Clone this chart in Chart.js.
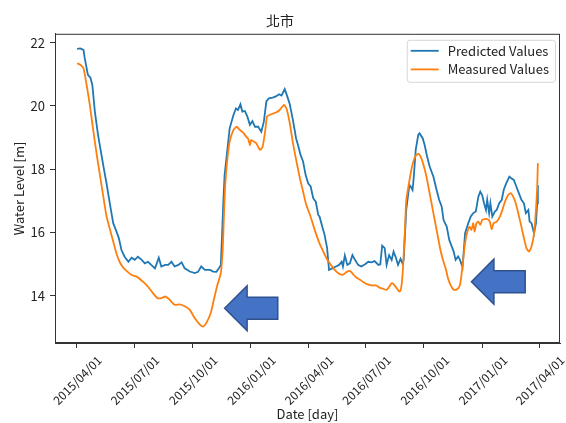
<!DOCTYPE html>
<html>
<head>
<meta charset="utf-8">
<script src="https://cdn.jsdelivr.net/npm/chart.js@4.4.0/dist/chart.umd.min.js"></script>
<style>
    html, body { margin: 0; padding: 0; background: #fff; }
    #wrap { width: 566px; height: 423px; position: relative; }
</style>
</head>
<body>
<div id="wrap"><canvas id="grafico"></canvas></div>
<script>
// days are counted from 2015/04/01
var chartTitle = "北市";
var tickDays = [0, 91, 183, 275, 366, 457, 549, 641, 731];
var tickLabels = ["2015/04/01", "2015/07/01", "2015/10/01", "2016/01/01", "2016/04/01",
    "2016/07/01", "2016/10/01", "2017/01/01", "2017/04/01"];
var levelTicks = [14, 16, 18, 20, 22];

var predictedDays = [1, 6, 11, 13, 18, 22, 25, 29, 34, 39, 45, 47, 53, 58, 63, 67, 71, 76, 82, 87,
    92, 97, 103, 108, 113, 118, 124, 130, 134, 140, 145, 150, 155, 161, 166, 171, 179, 187, 192, 197,
    203, 211, 216, 221, 225, 228, 230, 232, 234, 238, 242, 248, 252, 255, 259, 262, 266, 270, 274, 278,
    282, 287, 292, 296, 300, 304, 310, 315, 320, 324, 329, 333, 337, 342, 347, 350, 354, 358, 362, 366,
    370, 374, 378, 382, 384, 389, 392, 396, 399, 404, 410, 415, 419, 421, 424, 428, 432, 436, 440, 445,
    450, 456, 461, 466, 471, 477, 480, 483, 487, 490, 494, 498, 501, 505, 508, 512, 515, 517, 521, 526,
    528, 531, 533, 536, 540, 542, 547, 550, 554, 558, 564, 569, 573, 577, 580, 585, 589, 593, 596, 599,
    603, 606, 610, 614, 619, 623, 627, 631, 635, 638, 641, 644, 647, 649, 652, 654, 657, 661, 664, 668,
    672, 675, 679, 684, 687, 691, 695, 699, 703, 707, 710, 714, 716, 719, 723, 726, 728, 729];
var predictedValues = [21.80, 21.82, 21.77, 21.51, 20.98, 20.89, 20.66, 19.82, 19.08, 18.50, 17.81, 17.60, 16.87, 16.29, 16.03, 15.81, 15.44, 15.23, 15.07, 15.20,
    15.13, 15.23, 15.13, 15.02, 15.07, 14.97, 14.86, 15.20, 14.92, 14.97, 14.97, 15.07, 14.92, 14.97, 15.05, 14.86, 14.76, 14.71, 14.75, 14.92,
    14.81, 14.81, 14.76, 14.75, 14.86, 14.97, 15.92, 16.97, 17.81, 18.55, 19.29, 19.71, 19.92, 19.87, 20.05, 19.82, 19.84, 19.66, 19.40, 19.52,
    19.34, 19.34, 19.18, 19.50, 20.14, 20.24, 20.26, 20.30, 20.37, 20.33, 20.53, 20.30, 20.05, 19.55, 18.97, 18.76, 18.45, 18.24, 17.82, 17.55,
    17.45, 17.08, 16.97, 16.55, 16.50, 16.13, 15.92, 15.50, 14.81, 14.86, 14.92, 14.97, 15.07, 14.92, 15.27, 14.97, 15.02, 15.28, 15.13, 14.97,
    14.92, 14.99, 15.07, 15.05, 15.09, 14.97, 14.99, 15.58, 15.50, 14.97, 15.28, 15.13, 15.39, 15.18, 14.97, 15.16, 15.02, 15.13, 16.71, 17.50,
    17.45, 17.34, 17.76, 18.61, 19.08, 19.13, 18.98, 18.77, 18.40, 18.08, 17.76, 17.34, 17.03, 16.82, 16.39, 16.18, 15.76, 15.55, 15.39, 15.13,
    15.24, 15.13, 14.90, 15.97, 16.29, 16.50, 16.61, 16.66, 17.13, 17.29, 17.18, 16.92, 16.71, 17.03, 16.61, 16.92, 16.50, 16.66, 16.71, 16.92,
    17.03, 17.34, 17.55, 17.76, 17.71, 17.66, 17.45, 17.24, 17.03, 16.92, 16.61, 16.71, 16.34, 16.29, 15.97, 16.29, 16.92, 17.50];

var measuredDays = [1, 6, 11, 16, 21, 26, 32, 37, 42, 47, 53, 58, 63, 68, 74, 79, 87, 95, 105, 113,
    121, 128, 134, 141, 147, 155, 163, 171, 179, 187, 195, 200, 205, 212, 217, 222, 228, 231, 233, 235,
    238, 242, 248, 253, 258, 263, 268, 271, 274, 276, 280, 284, 290, 294, 298, 301, 305, 311, 316, 321,
    328, 332, 337, 342, 348, 353, 358, 363, 369, 374, 379, 384, 390, 395, 400, 406, 411, 416, 421, 427,
    432, 437, 442, 448, 453, 459, 466, 473, 479, 485, 490, 494, 498, 501, 506, 510, 512, 514, 516, 519,
    521, 526, 529, 533, 537, 541, 545, 549, 553, 557, 561, 566, 571, 575, 579, 584, 587, 591, 595, 599,
    603, 606, 608, 611, 614, 617, 621, 624, 627, 629, 632, 635, 638, 641, 645, 649, 653, 656, 659, 664,
    669, 673, 677, 682, 686, 690, 694, 698, 703, 707, 711, 715, 719, 723, 726, 728, 729];
var measuredValues = [21.35, 21.30, 21.19, 20.66, 20.03, 19.29, 18.45, 17.81, 17.18, 16.55, 16.08, 15.71, 15.34, 15.07, 14.88, 14.78, 14.65, 14.60, 14.44, 14.28,
    14.07, 13.92, 13.92, 13.97, 13.87, 13.71, 13.72, 13.66, 13.55, 13.28, 13.08, 13.02, 13.13, 13.44, 13.87, 14.29, 14.71, 15.45, 16.55, 17.50,
    18.24, 18.87, 19.24, 19.34, 19.24, 19.16, 19.03, 18.97, 18.76, 18.92, 18.87, 18.82, 18.61, 18.71, 19.18, 19.66, 19.71, 19.76, 19.80, 19.87,
    20.03, 19.90, 19.45, 18.82, 18.20, 17.71, 17.29, 16.87, 16.55, 16.23, 15.92, 15.65, 15.39, 15.18, 15.02, 14.86, 14.75, 14.68, 14.66, 14.75,
    14.78, 14.68, 14.57, 14.50, 14.43, 14.36, 14.32, 14.32, 14.25, 14.21, 14.18, 14.28, 14.39, 14.36, 14.23, 14.13, 14.15, 14.39, 14.90, 16.10,
    17.00, 17.63, 17.97, 18.29, 18.45, 18.48, 18.34, 18.08, 17.76, 17.34, 16.92, 16.39, 15.87, 15.45, 15.13, 14.81, 14.55, 14.34, 14.20, 14.18,
    14.23, 14.34, 14.60, 15.13, 15.66, 15.97, 16.18, 16.08, 16.29, 16.02, 16.29, 16.34, 16.24, 16.39, 16.42, 16.42, 16.34, 16.10, 16.29, 16.34,
    16.50, 16.71, 16.97, 17.18, 17.24, 17.13, 16.92, 16.61, 16.18, 15.82, 15.50, 15.39, 15.55, 15.97, 16.71, 17.45, 18.19];

// the two callout arrows, tip and tail in data units
var arrowTips = [{ x: 234, y: 13.6 }, { x: 624, y: 14.44 }];
var arrowTails = [{ x: 318, y: 13.6 }, { x: 709, y: 14.44 }];

var fontFamily = '"Noto Sans CJK TC", "Noto Sans", sans-serif';
var textColor = "#222";
var axisColor = "#333";

function toPoints(days, values) {
    return days.map(function (d, i) { return { x: d, y: values[i] }; });
}

var framePlugin = {
    id: "frame",
    afterDatasetsDraw: function (chart) {
        var ctx = chart.ctx;
        var ca = chart.chartArea;
        var xs = chart.scales.x, ys = chart.scales.y;
        ctx.save();
        ctx.strokeStyle = axisColor;
        ctx.lineWidth = 1;
        ctx.strokeRect(ca.left + 0.5, ca.top + 0.5, ca.right - ca.left - 1, ca.bottom - ca.top - 1);

        // arrows
        for (var i = 0; i < arrowTips.length; i++) {
            var tx = xs.getPixelForValue(arrowTips[i].x);
            var ty = ys.getPixelForValue(arrowTips[i].y);
            var ex = xs.getPixelForValue(arrowTails[i].x);
            var head = 22.5, halfHead = 22.5, halfShaft = 11;
            ctx.beginPath();
            ctx.moveTo(tx, ty);
            ctx.lineTo(tx + head, ty - halfHead);
            ctx.lineTo(tx + head, ty - halfShaft);
            ctx.lineTo(ex, ty - halfShaft);
            ctx.lineTo(ex, ty + halfShaft);
            ctx.lineTo(tx + head, ty + halfShaft);
            ctx.lineTo(tx + head, ty + halfHead);
            ctx.closePath();
            ctx.fillStyle = "#4472C4";
            ctx.fill();
            ctx.strokeStyle = "#2F528F";
            ctx.lineWidth = 1.5;
            ctx.stroke();
        }

        // legend box (upper right, matplotlib style)
        var items = [chart.data.datasets[0], chart.data.datasets[1]];
        ctx.font = "13px " + fontFamily;
        var tw = 0;
        items.forEach(function (it) { tw = Math.max(tw, ctx.measureText(it.label).width); });
        var bw = 4 + 28 + 9 + tw + 6;
        var bh = 42;
        var bx = ca.right - 5 - bw;
        var by = ca.top + 6;
        ctx.fillStyle = "rgba(255,255,255,0.8)";
        ctx.strokeStyle = "#d6d6d6";
        ctx.lineWidth = 1;
        ctx.beginPath();
        ctx.roundRect(bx + 0.5, by + 0.5, bw, bh, 3);
        ctx.fill();
        ctx.stroke();
        items.forEach(function (it, k) {
            var ly = by + 11 + k * 18.6;
            ctx.strokeStyle = it.borderColor;
            ctx.lineWidth = 1.8;
            ctx.beginPath();
            ctx.moveTo(bx + 4, ly);
            ctx.lineTo(bx + 32, ly);
            ctx.stroke();
            ctx.fillStyle = textColor;
            ctx.textBaseline = "middle";
            ctx.textAlign = "left";
            ctx.fillText(it.label, bx + 41, ly);
        });
        ctx.restore();
    }
};

var ctx = document.getElementById("grafico").getContext("2d");
new Chart(ctx, {
    type: "line",
    data: {
        datasets: [{
            label: "Predicted Values",
            data: toPoints(predictedDays, predictedValues),
            borderColor: "#1f77b4",
            borderWidth: 1.8,
            pointRadius: 0,
            tension: 0,
            order: 1
        }, {
            label: "Measured Values",
            data: toPoints(measuredDays, measuredValues),
            borderColor: "#ff7f0e",
            borderWidth: 1.8,
            pointRadius: 0,
            tension: 0.2,
            order: 0
        }]
    },
    options: {
        responsive: true,
        maintainAspectRatio: false,
        animation: false,
        events: [],
        layout: { padding: { left: 0, right: 6, top: 0, bottom: 0 }, autoPadding: false },
        plugins: {
            legend: { display: false },
            tooltip: { enabled: false },
            title: {
                display: true,
                text: chartTitle,
                color: textColor,
                font: { family: fontFamily, size: 14, weight: "normal" },
                padding: { top: 12, bottom: 5 }
            }
        },
        scales: {
            x: {
                type: "linear",
                min: -34,
                max: 764,
                afterBuildTicks: function (s) { s.ticks = tickDays.map(function (v) { return { value: v }; }); },
                afterFit: function (s) { s.height = 80; },
                ticks: {
                    autoSkip: false,
                    minRotation: 45,
                    maxRotation: 45,
                    labelOffset: 23,
                    padding: 5,
                    color: textColor,
                    font: { family: fontFamily, size: 12 },
                    callback: function (v, i) { return tickLabels[i]; }
                },
                grid: { drawOnChartArea: false, tickLength: 5, tickColor: axisColor },
                border: { color: axisColor },
                title: {
                    display: true,
                    text: "Date [day]",
                    color: textColor,
                    font: { family: fontFamily, size: 13 },
                    padding: { top: 0, bottom: 1 }
                }
            },
            y: {
                min: 12.5,
                max: 22.28,
                afterBuildTicks: function (s) { s.ticks = levelTicks.map(function (v) { return { value: v }; }); },
                afterFit: function (s) { s.width = 55; },
                ticks: {
                    padding: 5,
                    color: textColor,
                    font: { family: fontFamily, size: 13 }
                },
                grid: { drawOnChartArea: false, tickLength: 5, tickColor: axisColor },
                border: { color: axisColor },
                title: {
                    display: true,
                    text: "Water Level [m]",
                    color: textColor,
                    font: { family: fontFamily, size: 13 },
                    padding: { top: 11, bottom: 0 }
                }
            }
        }
    },
    plugins: [framePlugin]
});
</script>
</body>
</html>
